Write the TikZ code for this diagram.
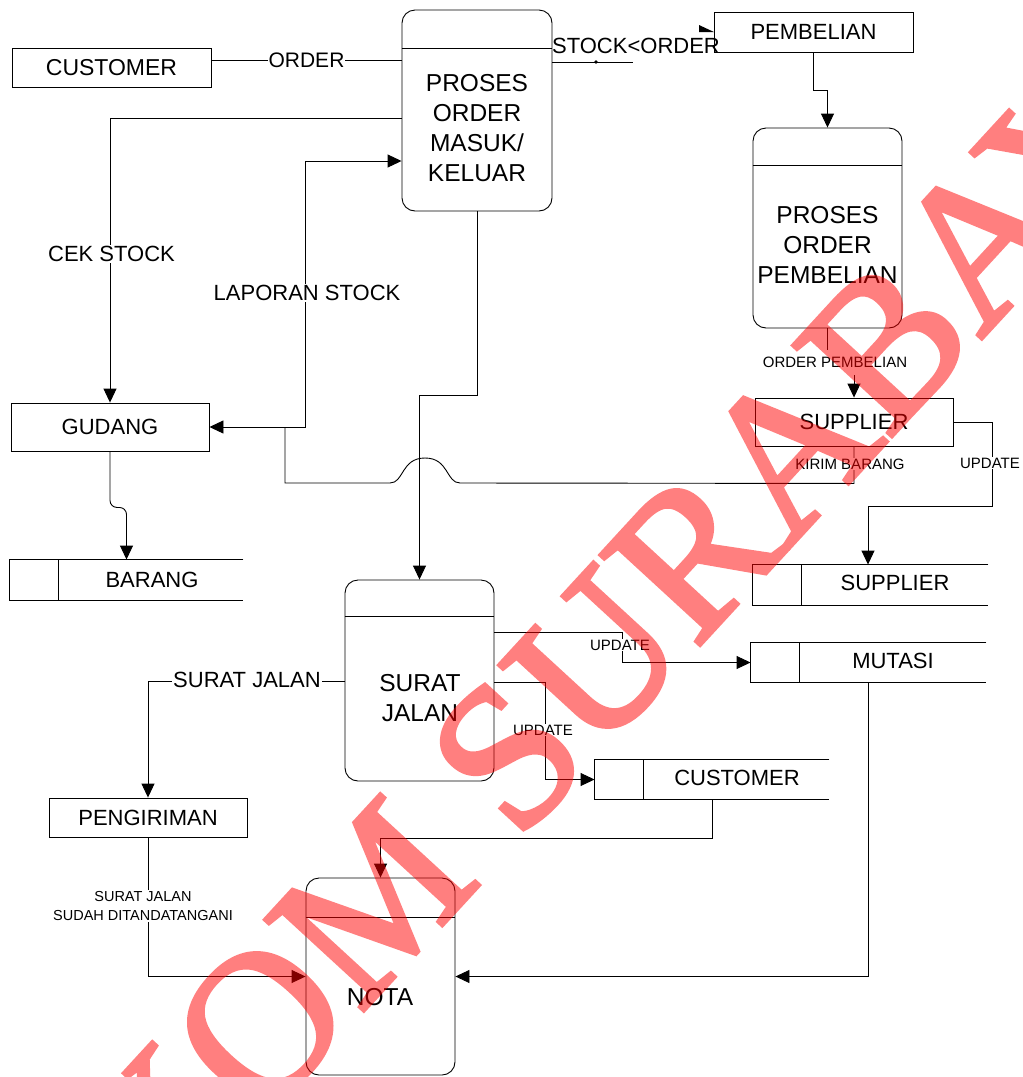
\documentclass[tikz,border=0pt]{standalone}
\usepackage{fontspec}
\setmainfont{Liberation Sans}
\newfontfamily\wmfont[FakeBold=2]{Liberation Serif}
\usetikzlibrary{arrows.meta}
\newcommand\storelines[1]{%
  \draw (#1.north east) -- (#1.north west) -- (#1.south west) -- (#1.south east);
  \draw ([xshift=49pt]#1.north west) -- ([xshift=49pt]#1.south west);}
\begin{document}
\begin{tikzpicture}[x=1pt,y=-1pt, line width=0.9pt,
  arr/.style={-{Triangle[length=14pt,width=13pt]}},
  ext/.style={draw, rectangle, inner sep=0pt},
  proc/.style={draw, rounded corners=13pt, inner sep=0pt},
  store/.style={inner sep=0pt},
  big/.style={font=\fontsize{24.5}{30}\selectfont, align=center, inner sep=0pt},
  lab/.style={font=\fontsize{22}{26}\selectfont},
  small/.style={font=\fontsize{15}{17}\selectfont, align=center},
  bg/.style={fill=white, inner sep=1pt}
]
\useasboundingbox[fill=white] (0,0) rectangle (1023,1077);

% ---- external entities
\node[ext, minimum width=199pt, minimum height=39pt, font=\fontsize{23}{26}\selectfont] (cust) at (111.5,67.5) {CUSTOMER};
\node[ext, lab, minimum width=199pt, minimum height=40pt] (pemb) at (813.5,32) {PEMBELIAN};
\node[ext, lab, minimum width=198pt, minimum height=48pt] (supp) at (854,422) {SUPPLIER};
\node[ext, lab, minimum width=198pt, minimum height=48pt] (gud) at (110,427) {GUDANG};
\node[ext, lab, minimum width=198pt, minimum height=39pt] (peng) at (148,817.5) {PENGIRIMAN};

% ---- processes
\node[proc, minimum width=150pt, minimum height=201pt] (p1) at (477,110.5) {};
\draw (p1.west |- 0,48) -- (p1.east |- 0,48);
\node[big] (p1t) at (477,128.5) {PROSES\\ORDER\\MASUK/\\KELUAR};

\node[proc, minimum width=149pt, minimum height=200pt] (p2) at (827.5,228) {};
\draw (p2.west |- 0,165) -- (p2.east |- 0,165);
\node[big] (p2t) at (827.5,245) {PROSES\\ORDER\\PEMBELIAN};

\node[proc, minimum width=149pt, minimum height=201pt] (sj) at (419.5,680.5) {};
\draw (sj.west |- 0,616) -- (sj.east |- 0,616);
\node[big] (sjt) at (420,698) {SURAT\\JALAN};

\node[proc, minimum width=149pt, minimum height=197pt] (nota) at (380.5,976.5) {};
\draw (nota.west |- 0,917) -- (nota.east |- 0,917);
\node[big] (notat) at (380,997) {NOTA};

% ---- data stores
\node[store, minimum width=233pt, minimum height=40pt] (bar) at (126.5,580) {};
\storelines{bar}
\node[lab] (bart) at (152,580) {BARANG};
\node[store, minimum width=235pt, minimum height=40pt] (suppS) at (870.5,585) {};
\storelines{suppS}
\node[lab] (suppSt) at (895,583) {SUPPLIER};
\node[store, minimum width=235pt, minimum height=39pt] (mut) at (868.5,662.5) {};
\storelines{mut}
\node[lab] (mutt) at (893,661) {MUTASI};
\node[store, minimum width=234pt, minimum height=39pt] (custS) at (712,779.5) {};
\storelines{custS}
\node[lab] (custSt) at (737,778) {CUSTOMER};

% ---- flows
\draw (cust.east |- 0,60) -- (p1.west |- 0,60)
  node[midway, bg, font=\fontsize{21}{24}\selectfont] {ORDER};

\coordinate (so) at (633,62);
\draw (p1.east |- 0,62) -- (so);
\fill (596,62) circle (1.8pt);
\fill (699,25) -- (714,32) -- (699,32) -- cycle;
\node[lab, inner sep=0pt] (solab) at (636,46) {STOCK<ORDER};

\draw[arr] (pemb.south) -- ++(0,38) -| (p2.north);

\draw (p2.south) -- ++(0,22);
\node[small, inner sep=0pt] (oplab) at (835,362) {ORDER PEMBELIAN};
\coordinate (op) at (854,375);
\draw[arr] (op) -- (supp.north);

\draw[arr] (supp.east) -- (992,422) |- (868,506) -- (suppS.north -| 868,0);
\node[small, bg] (up1) at (990,463) {UPDATE};

\draw (supp.south) -- ++(0,37) -- (460,483)
  .. controls (446,483) and (449,458) .. (425,458)
  .. controls (401,458) and (404,483) .. (390,483)
  -- (285,483) -- (285,427);
\node[small, bg] (kb) at (850,464) {KIRIM BARANG};

\draw[{Triangle[length=14pt,width=13pt]}-{Triangle[length=14pt,width=13pt]}]
  (gud.east) -- (305,427) -- (305,161) -- (p1.west |- 0,161);
\node[lab, bg] (ls) at (307,293) {LAPORAN STOCK};

\draw[arr] (p1.west |- 0,118) -| (gud.north);
\node[lab, bg] (cs) at (111.5,254) {CEK STOCK};

\draw[arr, rounded corners=7pt] (gud.south) -- ++(0,56) -| (bar.north);

\draw[arr] (p1.south) -- ++(0,184) -| (sj.north);

\draw[arr] (sj.west |- 0,681) -| (peng.north);
\node[lab, bg] (sjl) at (247,680) {SURAT JALAN};

\draw[arr] (peng.south) |- (nota.west);
\node[small, bg, font=\fontsize{14.5}{19}\selectfont] (sjs) at (143,906) {SURAT JALAN\\SUDAH DITANDATANGANI};

\draw[arr] (sj.east |- 0,632) -- (622,632) |- (mut.west);
\node[small, bg] (up2) at (620,645) {UPDATE};

\draw[arr] (sj.east |- 0,682) -- (545,682) |- (custS.west);
\node[small, bg] (up3) at (543,730) {UPDATE};

\draw[arr] (custS.south) -- ++(0,39) -| (nota.north);
\draw[arr] (mut.south) |- (nota.east);

% ---- watermark
\begin{scope}
\clip (0,0) rectangle (1023,1077);
\begin{scope}[transparency group, opacity=0.5]
\node[text=red, rotate=47.4, inner sep=0pt,
  font=\fontsize{205}{205}\wmfont] (wm) at (553,706) {STIKOM SURABAYA};
\end{scope}
\end{scope}
\end{tikzpicture}
\end{document}
